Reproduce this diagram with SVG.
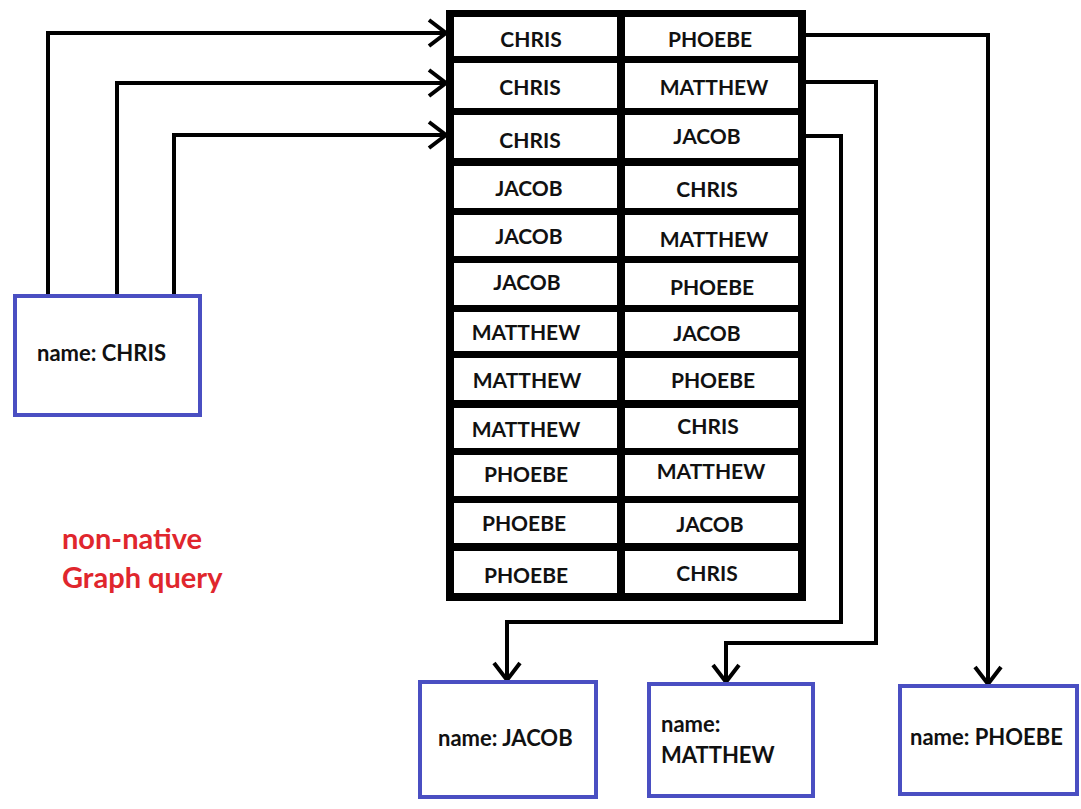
<svg xmlns="http://www.w3.org/2000/svg" width="1081" height="809" viewBox="0 0 1081 809">
  <style>
    .cell { font-family: Lato, "Open Sans", "Liberation Sans", sans-serif; font-weight: bold; font-size: 21px; fill: #111; text-anchor: middle; }
    .label { font-family: Lato, "Open Sans", "Liberation Sans", sans-serif; font-weight: bold; font-size: 22px; fill: #111; }
    .note { font-family: Lato, "Open Sans", "Liberation Sans", sans-serif; font-weight: bold; font-size: 29px; fill: #e0262d; }
    .node { fill: #fff; stroke: #4a4fc2; stroke-width: 4; }
    .wire { fill: none; stroke: #000; stroke-width: 4; stroke-linejoin: miter; }
    .white { fill: #fff; }
  </style>
  <defs>
    <marker id="chevron" markerUnits="userSpaceOnUse" viewBox="-24 -20 30 40" markerWidth="30" markerHeight="40" refX="0" refY="0" orient="auto">
      <path d="M-17,-13 L0,0 L-17,13" fill="none" stroke="#000" stroke-width="4"/>
    </marker>
  </defs>
  <rect width="1081" height="809" fill="#fff"/>

  <!-- relationship table: black frame with white cells -->
  <g id="table">
    <rect x="446" y="10" width="360" height="591" fill="#000"/>
    <g class="white">
      <rect x="454" y="17" width="163" height="39"/><rect x="625" y="17" width="173" height="39"/>
      <rect x="454" y="63" width="163" height="45"/><rect x="625" y="63" width="173" height="45"/>
      <rect x="454" y="115" width="163" height="43"/><rect x="625" y="115" width="173" height="43"/>
      <rect x="454" y="166" width="163" height="42"/><rect x="625" y="166" width="173" height="42"/>
      <rect x="454" y="215" width="163" height="41"/><rect x="625" y="215" width="173" height="41"/>
      <rect x="454" y="263" width="163" height="42"/><rect x="625" y="263" width="173" height="42"/>
      <rect x="454" y="312" width="163" height="39"/><rect x="625" y="312" width="173" height="39"/>
      <rect x="454" y="358" width="163" height="42"/><rect x="625" y="358" width="173" height="42"/>
      <rect x="454" y="408" width="163" height="40"/><rect x="625" y="408" width="173" height="40"/>
      <rect x="454" y="455" width="163" height="41"/><rect x="625" y="455" width="173" height="41"/>
      <rect x="454" y="503" width="163" height="40"/><rect x="625" y="503" width="173" height="40"/>
      <rect x="454" y="551" width="163" height="42"/><rect x="625" y="551" width="173" height="42"/>
    </g>
    <g class="cell">
      <text x="531" y="47">CHRIS</text><text x="710" y="47">PHOEBE</text>
      <text x="530" y="95">CHRIS</text><text x="714" y="95">MATTHEW</text>
      <text x="530" y="148">CHRIS</text><text x="707" y="144">JACOB</text>
      <text x="529" y="196">JACOB</text><text x="707" y="197">CHRIS</text>
      <text x="529" y="244">JACOB</text><text x="714" y="247">MATTHEW</text>
      <text x="527" y="290">JACOB</text><text x="712" y="295">PHOEBE</text>
      <text x="526" y="340">MATTHEW</text><text x="707" y="341">JACOB</text>
      <text x="527" y="388">MATTHEW</text><text x="713" y="388">PHOEBE</text>
      <text x="526" y="437">MATTHEW</text><text x="708" y="434">CHRIS</text>
      <text x="526" y="482">PHOEBE</text><text x="711" y="479">MATTHEW</text>
      <text x="524" y="531">PHOEBE</text><text x="710" y="532">JACOB</text>
      <text x="526" y="583">PHOEBE</text><text x="707" y="581">CHRIS</text>
    </g>
  </g>

  <!-- links between nodes and table rows -->
  <g id="connectors" class="wire">
    <path d="M48,296 V33 H446" marker-end="url(#chevron)"/>
    <path d="M117,296 V83 H446" marker-end="url(#chevron)"/>
    <path d="M174,296 V135 H446" marker-end="url(#chevron)"/>
    <path d="M806,35 H988 V684" marker-end="url(#chevron)"/>
    <path d="M806,82 H876 V643 H726 V682" marker-end="url(#chevron)"/>
    <path d="M806,136 H841 V622 H507 V680" marker-end="url(#chevron)"/>
  </g>

  <g id="node-chris">
    <rect class="node" x="15" y="296" width="185" height="119"/>
    <text class="label" x="37" y="361">name: CHRIS</text>
  </g>
  <g id="node-jacob">
    <rect class="node" x="420" y="682" width="176" height="115"/>
    <text class="label" x="438" y="746">name: JACOB</text>
  </g>
  <g id="node-matthew">
    <rect class="node" x="649" y="684" width="164" height="112"/>
    <text class="label" x="661" y="732">name:</text>
    <text class="label" x="661" y="763">MATTHEW</text>
  </g>
  <g id="node-phoebe">
    <rect class="node" x="900" y="686" width="177" height="108"/>
    <text class="label" x="910" y="745">name: PHOEBE</text>
  </g>

  <g id="caption">
    <text class="note" x="62" y="549">non-native</text>
    <text class="note" x="62" y="588">Graph query</text>
  </g>
</svg>
